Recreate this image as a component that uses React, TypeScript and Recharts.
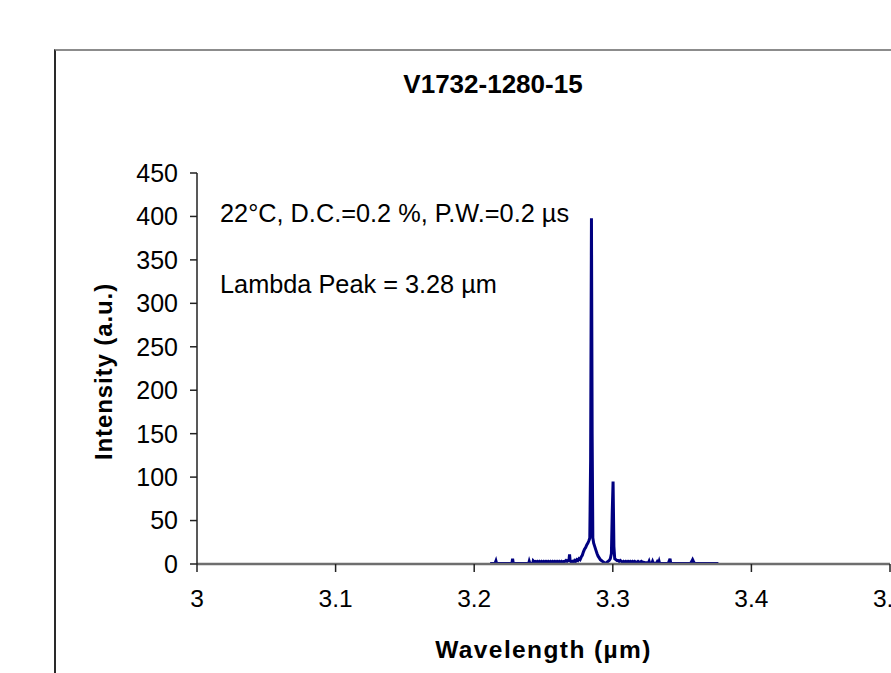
import React from "react";
import { LineChart, Line, XAxis, YAxis } from "recharts";

const wavelengths: number[] = [
  3.2115, 3.215, 3.2157, 3.2162, 3.22, 3.224, 3.2272, 3.2277, 3.2282, 3.234,
  3.2393, 3.2397, 3.2402, 3.2422, 3.2426, 3.2432, 3.244, 3.2447, 3.2455, 3.2462,
  3.247, 3.2478, 3.2486, 3.2494, 3.2502, 3.251, 3.2518, 3.2526, 3.2534, 3.2542,
  3.255, 3.2558, 3.2566, 3.2574, 3.2582, 3.259, 3.2598, 3.2606, 3.2614, 3.2622,
  3.263, 3.2638, 3.2646, 3.2654, 3.2662, 3.267, 3.2678, 3.2684, 3.2688, 3.2692,
  3.27, 3.2708, 3.2716, 3.2724, 3.2732, 3.274, 3.2748, 3.2756, 3.2764, 3.2772,
  3.278, 3.2788, 3.2796, 3.2804, 3.2812, 3.282, 3.2828, 3.2834, 3.284, 3.2846,
  3.2851, 3.2856, 3.2862, 3.287, 3.2878, 3.2886, 3.2894, 3.2902, 3.291, 3.2918,
  3.2926, 3.2934, 3.2942, 3.295, 3.2958, 3.2966, 3.2974, 3.2982, 3.299, 3.2996,
  3.3002, 3.3008, 3.3014, 3.3022, 3.303, 3.3038, 3.3046, 3.3054, 3.3062, 3.307,
  3.3078, 3.3086, 3.3094, 3.3102, 3.311, 3.3118, 3.3126, 3.3134, 3.3142, 3.315,
  3.3158, 3.3166, 3.3174, 3.3182, 3.319, 3.3198, 3.3206, 3.3214, 3.3222, 3.323,
  3.324, 3.325, 3.3258, 3.3262, 3.3266, 3.3282, 3.3287, 3.3292, 3.3315, 3.332,
  3.3325, 3.333, 3.3334, 3.3338, 3.34, 3.3413, 3.3418, 3.356, 3.357, 3.3576,
  3.3582, 3.359, 3.37, 3.3762,
];

const intensities: number[] = [
  0.5, 0.5, 3.5, 0.5, 0.5, 0.5, 0.5, 6, 0.5, 0.5,
  0.5, 3, 0.5, 0.5, 3.5, 2.5, 3, 2, 3, 2,
  3, 2, 3, 2, 3, 2, 3, 2, 3, 2,
  3, 2, 3, 2, 3, 2, 3, 2, 3, 2,
  3, 2, 3, 3, 4, 3, 4, 5, 11, 4,
  2, 3, 2, 4, 3, 5, 4, 6, 5, 8,
  10, 14, 17, 19, 22, 24, 27, 30, 120, 398,
  150, 30, 24, 20, 16, 12, 9, 7, 5, 4,
  3, 2, 1, 1, 2, 3, 4, 6, 12, 60,
  95, 20, 6, 5, 4, 4, 3, 4, 3, 2,
  3, 2, 3, 2, 3, 2, 3, 2, 3, 2,
  3, 2, 2, 3, 2, 2, 3, 2, 2, 1.5,
  1.5, 1.5, 1.5, 3, 1, 1, 3, 1, 1, 2.5,
  1, 1, 3, 0.5, 0.5, 6, 0.5, 0.5, 3, 5,
  3, 0.5, 0.5, 0.5,
];

const xTicks: number[] = [3, 3.1, 3.2, 3.3, 3.4, 3.5];
const yTicks: number[] = [0, 50, 100, 150, 200, 250, 300, 350, 400, 450];

const chartTitle = "V1732-1280-15";
const noteLine1 = "22°C, D.C.=0.2 %, P.W.=0.2 µs";
const noteLine2 = "Lambda Peak = 3.28 µm";
const xTitle = "Wavelength (µm)";
const yTitle = "Intensity (a.u.)";

const data = wavelengths.map((w, i) => ({ w, v: intensities[i] }));

const FONT = "'Liberation Sans', Arial, Helvetica, sans-serif";

export default function App() {
  return (
    <div
      style={{
        position: "absolute",
        left: 0,
        top: 0,
        width: 891,
        height: 673,
        overflow: "hidden",
        background: "#fff",
        fontFamily: FONT,
      }}
    >
      <div
        style={{
          position: "absolute",
          left: 54,
          top: 49,
          width: 1000,
          height: 1000,
          borderLeft: "2px solid #2a2a2a",
          borderTop: "2px solid #8c8c8c",
        }}
      />
      <div
        style={{
          position: "absolute",
          left: 293,
          top: 71,
          width: 400,
          textAlign: "center",
          fontSize: 26,
          lineHeight: "26px",
          fontWeight: "bold",
          color: "#000",
        }}
      >
        {chartTitle}
      </div>
      <div style={{ position: "absolute", left: 0, top: 0 }}>
        <LineChart
          width={900}
          height={673}
          data={data}
          margin={{ top: 173, right: 10, bottom: 0, left: 0 }}
        >
          <XAxis
            xAxisId="top"
            orientation="top"
            dataKey="w"
            type="number"
            domain={[3, 3.5]}
            height={0}
            tick={false}
            tickLine={false}
            axisLine={{ stroke: "#9a9a9a", strokeWidth: 2 }}
          />
          <YAxis
            yAxisId="right"
            orientation="right"
            type="number"
            domain={[0, 450]}
            width={0}
            tick={false}
            tickLine={false}
            axisLine={{ stroke: "#9a9a9a", strokeWidth: 2 }}
          />
          <XAxis
            dataKey="w"
            type="number"
            domain={[3, 3.5]}
            ticks={xTicks}
            allowDataOverflow
            interval={0}
            height={109}
            tickSize={8}
            tickMargin={18}
            tickFormatter={(v: number) => String(v)}
            tick={{ fill: "#000", fontSize: 24.5, fontFamily: FONT }}
            axisLine={{ stroke: "#6e6e6e", strokeWidth: 2.5 }}
            tickLine={{ stroke: "#222", strokeWidth: 1.5 }}
            label={{
              content: (props: any) => {
                const vb = props.viewBox || {};
                return (
                  <text
                    x={vb.x + vb.width / 2}
                    y={658}
                    textAnchor="middle"
                    fontFamily={FONT}
                    fontWeight="bold"
                    fontSize={24.5}
                    letterSpacing={1.4}
                    fill="#000"
                  >
                    {xTitle}
                  </text>
                );
              },
            }}
          />
          <YAxis
            type="number"
            domain={[0, 450]}
            ticks={yTicks}
            interval={0}
            width={197}
            tickSize={7}
            tickMargin={12}
            tick={{ fill: "#000", fontSize: 25, fontFamily: FONT }}
            axisLine={{ stroke: "#222", strokeWidth: 1.5 }}
            tickLine={{ stroke: "#222", strokeWidth: 1.5 }}
            label={{
              content: (props: any) => {
                const vb = props.viewBox || {};
                const cy = vb.y + vb.height / 2 + 3;
                return (
                  <text
                    x={112}
                    y={cy}
                    transform={`rotate(-90, 112, ${cy})`}
                    textAnchor="middle"
                    fontFamily={FONT}
                    fontWeight="bold"
                    fontSize={24}
                    letterSpacing={0.9}
                    fill="#000"
                  >
                    {yTitle}
                  </text>
                );
              },
            }}
          />
          <Line
            type="linear"
            dataKey="v"
            stroke="#000080"
            strokeWidth={3}
            dot={false}
            isAnimationActive={false}
          />
        </LineChart>
      </div>
      <div
        style={{
          position: "absolute",
          left: 220,
          top: 200,
          fontSize: 25.3,
          lineHeight: "26px",
          color: "#000",
          whiteSpace: "nowrap",
        }}
      >
        {noteLine1}
      </div>
      <div
        style={{
          position: "absolute",
          left: 220,
          top: 271,
          fontSize: 25.3,
          lineHeight: "26px",
          color: "#000",
          whiteSpace: "nowrap",
        }}
      >
        {noteLine2}
      </div>
    </div>
  );
}
